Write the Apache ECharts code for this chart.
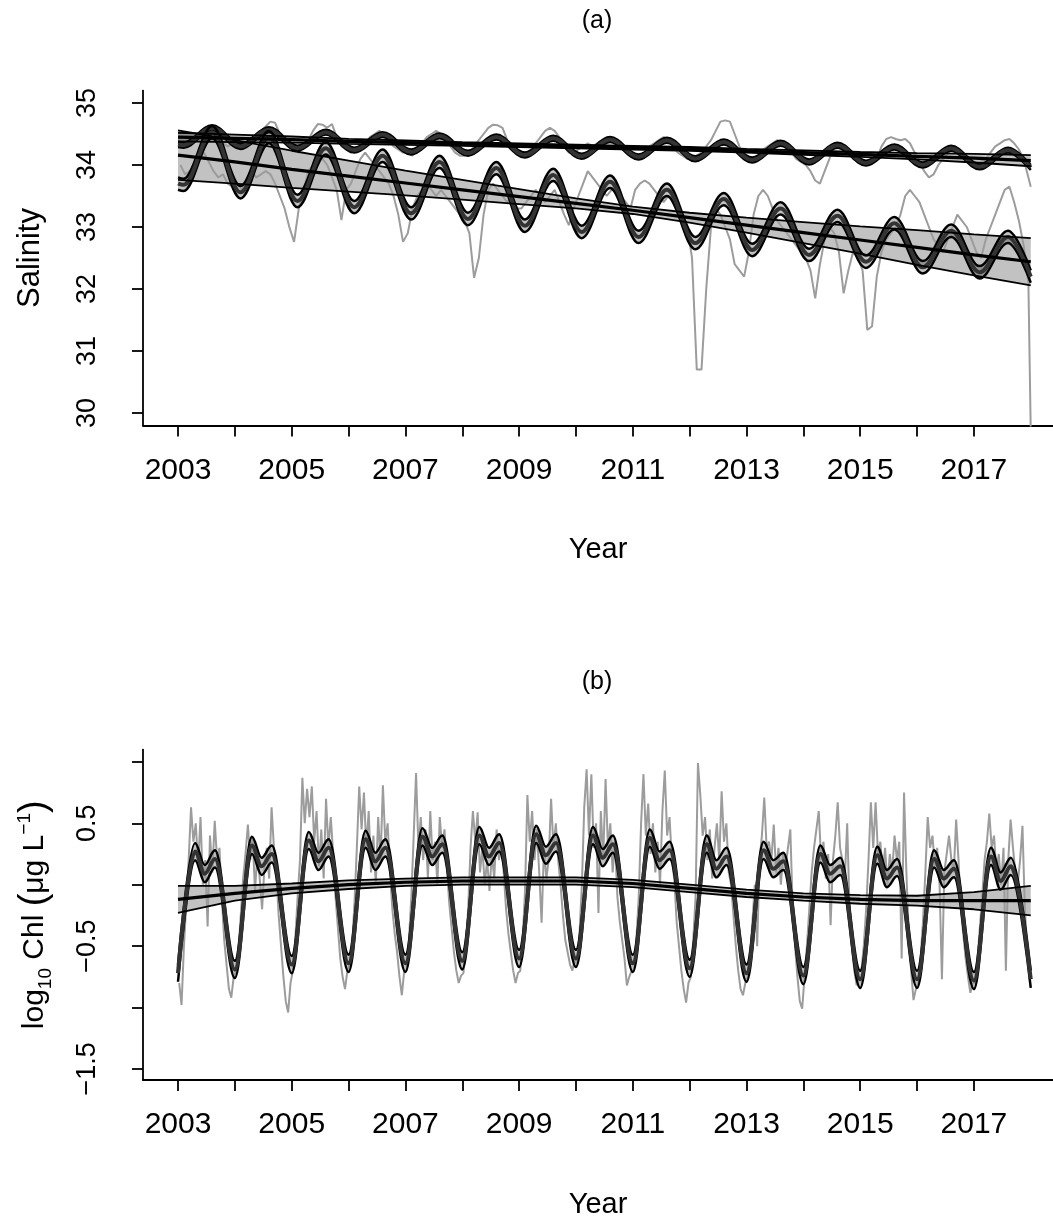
<!DOCTYPE html>
<html><head><meta charset="utf-8">
<script src="https://cdn.jsdelivr.net/npm/echarts@6/dist/echarts.min.js"></script>
<style>html,body{margin:0;padding:0;background:#fff}#c{width:1053px;height:1220px}</style>
</head><body><div id="c"></div>
<script>
// ---------------- DATA ----------------
const trendYears = [2003,2004,2005,2006,2007,2008,2009,2010,2011,2012,2013,2014,2015,2016,2017,2018];
const seasonYears = [2003,2004,2005,2006,2007,2008,2009,2010,2011,2012,2013,2014,2015,2016,2017];
const xTickYears = [2003,2004,2005,2006,2007,2008,2009,2010,2011,2012,2013,2014,2015,2016,2017];
const xLabelYears = [2003,2005,2007,2009,2011,2013,2015,2017];
const salTicks = [30,31,32,33,34,35];
const chlTicks = [-1.5,-1,-0.5,0,0.5,1];
const chlLabelTicks = [-1.5,-0.5,0.5];

// Salinity trends (station A: upper, station B: lower)
const salTrendA     = [34.45,34.43,34.41,34.38,34.36,34.34,34.32,34.30,34.28,34.26,34.23,34.20,34.17,34.14,34.11,34.07];
const salTrendAHalf = [0.07,0.06,0.05,0.04,0.035,0.03,0.03,0.03,0.03,0.03,0.03,0.035,0.04,0.05,0.07,0.09];
const salTrendB     = [34.16,34.05,33.93,33.82,33.71,33.60,33.49,33.38,33.27,33.15,33.03,32.91,32.79,32.67,32.55,32.44];
const salTrendBHalf = [0.40,0.35,0.30,0.25,0.20,0.16,0.12,0.08,0.06,0.08,0.12,0.17,0.22,0.28,0.33,0.38];

// Salinity seasonal fits: annual peaks and troughs, plus start/end values
const salSeasAPeak   = [34.60,34.57,34.53,34.49,34.47,34.45,34.43,34.41,34.40,34.37,34.35,34.32,34.29,34.27,34.24];
const salSeasATrough = [34.32,34.30,34.27,34.24,34.21,34.19,34.16,34.14,34.13,34.10,34.08,34.05,34.03,34.00,33.97];
const salSeasAEnds   = [34.33,33.96];
const salSeasAHalf   = 0.04;
const salSeasBPeak   = [34.53,34.45,34.27,34.15,34.05,33.95,33.84,33.73,33.60,33.45,33.30,33.18,33.06,32.94,32.84];
const salSeasBTrough = [33.68,33.56,33.42,33.32,33.22,33.13,33.02,32.92,32.84,32.74,32.63,32.55,32.44,32.35,32.27];
const salSeasBEnds   = [33.70,32.20];
const salSeasBHalf   = 0.10;
const salPhaseTrough = 0.1, salPhasePeak = 0.6;

// Salinity raw (monthly, per year)
const salRawA = [
 34.35,34.30,34.35,34.45,34.50,34.55,34.60,34.55,34.45,34.35,34.30,34.35,
 34.30,34.25,34.30,34.40,34.50,34.55,34.62,34.70,34.68,34.50,34.35,34.30,
 34.25,34.20,34.30,34.40,34.55,34.66,34.65,34.60,34.66,34.45,34.30,34.25,
 34.20,34.25,34.30,34.35,34.45,34.50,34.55,34.50,34.40,34.30,34.25,34.20,
 34.20,34.15,34.25,34.35,34.45,34.50,34.55,34.50,34.40,34.30,34.20,34.15,
 34.15,34.20,34.30,34.40,34.50,34.60,34.65,34.64,34.60,34.40,34.25,34.20,
 34.20,34.15,34.25,34.35,34.45,34.55,34.60,34.55,34.45,34.30,34.20,34.20,
 34.25,34.30,34.35,34.30,34.35,34.40,34.45,34.40,34.35,34.30,34.20,34.15,
 34.10,34.15,34.20,34.30,34.35,34.40,34.45,34.40,34.30,34.20,34.15,34.10,
 34.10,34.15,34.20,34.30,34.40,34.55,34.70,34.72,34.70,34.50,34.30,34.15,
 34.10,34.05,34.15,34.25,34.30,34.35,34.40,34.35,34.30,34.20,34.10,34.05,
 34.00,33.90,33.75,33.70,33.90,34.10,34.30,34.35,34.30,34.20,34.10,34.05,
 34.00,34.00,34.05,34.10,34.30,34.42,34.45,34.42,34.40,34.42,34.35,34.20,
 34.05,33.90,33.80,33.85,34.00,34.10,34.20,34.25,34.20,34.15,34.10,34.05,
 34.00,34.05,34.10,34.20,34.30,34.35,34.40,34.42,34.35,34.25,34.10,33.80];
const salRawAEnd = 33.65;
const salRawB = [
 34.00,33.85,33.90,34.00,34.10,34.20,34.05,33.90,33.80,33.85,33.70,33.65,
 33.70,33.60,33.75,33.90,33.80,33.85,33.90,33.85,33.70,33.50,33.30,33.00,
 32.76,33.30,33.60,33.90,34.00,34.20,34.10,34.00,33.80,33.60,33.11,33.60,
 33.70,33.90,34.10,34.20,34.10,34.00,33.90,33.80,33.70,33.50,33.20,32.76,
 32.90,33.30,33.50,33.60,33.70,33.60,33.50,33.60,33.50,33.40,33.30,33.20,
 33.10,32.90,32.18,32.50,33.20,33.60,33.70,33.60,33.50,33.40,33.50,33.30,
 33.30,33.40,33.50,33.60,33.50,33.40,33.50,33.60,33.40,33.20,33.03,33.30,
 33.50,33.70,33.90,33.80,33.70,33.60,33.50,33.60,33.70,33.50,33.40,33.30,
 33.60,33.70,33.75,33.70,33.60,33.50,33.40,33.50,33.45,33.30,33.20,33.00,
 32.50,30.70,30.70,32.00,33.00,33.30,33.20,33.00,32.80,32.40,32.30,32.20,
 32.60,33.20,33.50,33.60,33.50,33.30,33.10,33.00,32.90,32.80,32.70,32.60,
 32.50,32.30,31.85,32.40,32.80,33.00,32.90,32.60,31.93,32.30,32.60,32.50,
 32.30,31.34,31.40,32.20,32.60,32.80,32.90,33.00,33.20,33.50,33.60,33.50,
 33.40,33.20,33.00,32.80,32.70,32.60,32.80,33.00,33.20,33.10,33.00,32.80,
 32.60,32.50,32.80,33.00,33.20,33.40,33.60,33.65,33.40,33.10,32.70,32.10];
const salRawBEnd = 29.70;

// Chlorophyll trend
const chlTrend     = [-0.12,-0.07,-0.03,0.00,0.02,0.03,0.03,0.03,0.01,-0.03,-0.07,-0.10,-0.12,-0.13,-0.13,-0.13];
const chlTrendHalf = [0.11,0.06,0.04,0.035,0.03,0.03,0.03,0.03,0.03,0.03,0.03,0.03,0.035,0.04,0.07,0.12];

// Chlorophyll seasonal fit: winter trough, spring peak, summer dip, autumn peak
const chlSeasTrough = [-0.72,-0.69,-0.65,-0.64,-0.64,-0.62,-0.60,-0.60,-0.64,-0.68,-0.72,-0.74,-0.77,-0.77,-0.78,-0.77];
const chlSeasPeak1  = [0.27,0.32,0.36,0.37,0.39,0.40,0.41,0.40,0.38,0.33,0.28,0.25,0.24,0.21,0.23];
const chlSeasDip    = [0.09,0.15,0.19,0.19,0.23,0.23,0.24,0.22,0.20,0.13,0.13,0.09,0.05,0.05,0.03];
const chlSeasPeak2  = [0.21,0.25,0.30,0.30,0.33,0.34,0.34,0.33,0.28,0.23,0.19,0.15,0.14,0.13,0.15];
const chlSeasHalf   = 0.07;
const chlPhase = [0.0, 0.30, 0.47, 0.65];

// Chlorophyll raw (half-monthly, per year)
const chlRaw = [
 -0.80,-0.98,-0.50,-0.15,0.20,0.63,0.35,0.50,0.15,0.55,0.00,0.20,-0.34,0.40,0.10,0.52,0.20,0.30,-0.10,-0.45,-0.65,-0.85,-0.92,-0.75,
 -0.70,-0.55,-0.25,0.05,0.25,0.49,0.20,0.39,-0.05,0.25,0.05,-0.20,0.15,0.30,0.05,0.63,0.30,0.10,-0.25,-0.50,-0.75,-0.95,-1.04,-0.80,
 -0.70,-0.45,-0.10,0.20,0.87,0.50,0.78,0.55,0.80,0.35,0.60,0.15,0.45,0.05,0.70,0.30,0.55,0.25,-0.10,-0.35,-0.60,-0.75,-0.85,-0.70,
 -0.65,-0.50,-0.15,0.30,0.80,0.45,0.75,0.30,0.60,0.10,0.40,0.00,0.55,0.20,0.81,0.35,0.50,0.10,-0.20,-0.40,-0.55,-0.75,-0.90,-0.70,
 -0.70,-0.45,-0.10,0.40,0.91,0.30,0.55,0.20,0.45,0.05,0.60,0.20,0.35,0.00,0.55,0.30,0.45,0.15,-0.15,-0.35,-0.55,-0.70,-0.80,-0.74,
 -0.72,-0.50,-0.20,0.30,0.60,0.35,0.59,0.10,0.30,0.00,0.20,-0.05,0.25,0.05,0.45,0.20,0.35,0.10,-0.20,-0.40,-0.55,-0.70,-0.80,-0.72,
 -0.70,-0.45,-0.05,0.73,0.35,0.60,0.20,0.45,0.10,-0.31,0.30,0.05,0.20,0.70,0.30,0.50,0.20,0.00,-0.25,-0.45,-0.55,-0.65,-0.70,-0.60,
 -0.65,-0.40,0.00,0.63,0.94,0.40,0.90,0.30,0.50,-0.23,0.60,0.20,0.86,0.30,0.50,0.10,0.35,-0.10,-0.30,-0.45,-0.60,-0.82,-0.75,-0.70,
 -0.70,-0.45,-0.10,0.50,0.90,0.40,0.66,0.25,0.50,0.10,0.35,0.00,0.60,0.93,0.40,0.55,0.20,0.05,-0.30,-0.50,-0.70,-0.85,-0.96,-0.80,
 -0.75,-0.45,-0.10,0.99,0.73,0.40,0.55,0.20,0.45,0.05,0.30,0.50,0.20,0.76,0.35,0.50,0.10,0.00,-0.25,-0.50,-0.70,-0.85,-0.90,-0.80,
 -0.75,-0.60,-0.30,0.00,-0.50,0.20,0.40,0.71,0.30,0.35,0.20,0.49,0.10,0.30,0.00,0.25,0.15,0.30,0.45,-0.20,-0.50,-0.75,-0.95,-1.01,
 -0.75,-0.50,-0.20,0.10,0.30,0.45,0.60,0.20,0.35,0.05,0.25,-0.33,0.20,0.40,0.67,0.30,0.20,0.05,0.50,-0.20,-0.50,-0.70,-0.82,-0.70,
 -0.70,-0.50,-0.20,0.20,0.67,0.30,0.67,0.25,0.35,0.10,0.30,0.00,0.25,0.10,0.40,0.20,0.35,-0.60,0.75,0.10,-0.40,-0.70,-0.94,-0.85,
 -0.80,-0.60,-0.30,0.10,0.55,0.30,0.40,0.15,0.30,0.00,-0.77,0.10,0.25,0.40,0.20,0.10,0.53,0.20,-0.20,-0.40,-0.60,-0.75,-0.88,-0.80,
 -0.80,-0.60,-0.35,-0.10,0.20,0.35,0.58,0.30,0.40,0.10,0.25,0.00,0.30,-0.70,0.20,0.53,0.30,0.10,0.00,0.20,0.48,-0.20,-0.50,-0.70];
const chlRawEnd = -0.72;

// ---------------- BUILD ----------------
const FONT = '"Liberation Sans", Arial, Helvetica, sans-serif';
const X_MIN = 2002.3843, X_MAX = 2018.3912;
const SMOOTH = 0.36;
const FILL = 'rgba(0,0,0,0.24)';

function rawPts(vals, perYear, endVal) {
  const p = vals.map((v, i) => [2003 + (i + 0.5) / perYear, v]);
  p.push([2018, endVal]);
  return p;
}
function trendPts(vals) { return trendYears.map((y, i) => [y, vals[i]]); }
function trendBand(vals, half, sign) { return trendYears.map((y, i) => [y, vals[i] + sign * half[i]]); }
function salSeasPts(peaks, troughs, ends) {
  const p = [[2003, ends[0]]];
  seasonYears.forEach((y, i) => { p.push([y + salPhaseTrough, troughs[i]]); p.push([y + salPhasePeak, peaks[i]]); });
  p.push([2018, ends[1]]);
  return p;
}
function chlSeasPts() {
  const p = [];
  seasonYears.forEach((y, i) => {
    p.push([y + chlPhase[0], chlSeasTrough[i]]);
    p.push([y + chlPhase[1], chlSeasPeak1[i]]);
    p.push([y + chlPhase[2], chlSeasDip[i]]);
    p.push([y + chlPhase[3], chlSeasPeak2[i]]);
  });
  p.push([2018, chlSeasTrough[15]]);
  return p;
}
function shift(pts, d) { return pts.map(([t, v]) => [t, v + d]); }

function segPath(P, s) {
  let d = '';
  const n = P.length;
  for (let i = 1; i < n; i++) {
    if (!s) { d += 'L' + P[i][0] + ' ' + P[i][1]; continue; }
    const dx = P[i][0] - P[i - 1][0];
    const c0 = (i === 1) ? P[0] : [P[i - 1][0] + s * dx, P[i - 1][1]];
    const c1 = (i === n - 1) ? P[i] : [P[i][0] - s * dx, P[i][1]];
    d += 'C' + c0[0] + ' ' + c0[1] + ' ' + c1[0] + ' ' + c1[1] + ' ' + P[i][0] + ' ' + P[i][1];
  }
  return d;
}
function fillSeries(g, upper, lower, s) {
  return {
    type: 'custom', xAxisIndex: g, yAxisIndex: g, silent: true, data: [[2010, g === 0 ? 33 : 0]],
    renderItem: function (params, api) {
      const U = upper.map(p => api.coord(p));
      const L = lower.map(p => api.coord(p)).reverse();
      let d = 'M' + U[0][0] + ' ' + U[0][1] + segPath(U, s);
      d += 'L' + L[0][0] + ' ' + L[0][1] + segPath(L, s) + 'Z';
      return { type: 'path', shape: { pathData: d }, style: { fill: FILL, stroke: null } };
    }
  };
}
function lineSeries(g, data, color, width, smooth) {
  const o = { type: 'line', xAxisIndex: g, yAxisIndex: g, data: data, symbol: 'none', showSymbol: false,
    silent: true, clip: true, lineStyle: { color: color, width: width }, smooth: smooth || false };
  if (smooth) o.smoothMonotone = 'x';
  return o;
}
function bandSeries(g, center, half, s, cColor, cWidth, eWidth) {
  const up = shift(center, half), lo = shift(center, -half);
  return [fillSeries(g, up, lo, s), lineSeries(g, lo, '#000', eWidth, s), lineSeries(g, up, '#000', eWidth, s), lineSeries(g, center, cColor, cWidth, s)];
}
function trendSeries(g, vals, half) {
  const up = trendBand(vals, half, 1), lo = trendBand(vals, half, -1);
  return { fill: fillSeries(g, up, lo, 0),
    lines: [lineSeries(g, lo, '#000', 1.8), lineSeries(g, up, '#000', 1.8), lineSeries(g, trendPts(vals), '#000', 3.2)] };
}

const RAW = '#9c9c9c';
const tA = trendSeries(0, salTrendA, salTrendAHalf);
const tB = trendSeries(0, salTrendB, salTrendBHalf);
const tC = trendSeries(1, chlTrend, chlTrendHalf);
const sA = bandSeries(0, salSeasPts(salSeasAPeak, salSeasATrough, salSeasAEnds), salSeasAHalf, SMOOTH, '#333333', 4, 2.5);
const sB = bandSeries(0, salSeasPts(salSeasBPeak, salSeasBTrough, salSeasBEnds), salSeasBHalf, SMOOTH, '#333333', 4, 2.5);
const sC = bandSeries(1, chlSeasPts(), chlSeasHalf, SMOOTH, '#333333', 4, 2.5);

const series = [
  lineSeries(0, rawPts(salRawA, 12, salRawAEnd), RAW, 2),
  lineSeries(0, rawPts(salRawB, 12, salRawBEnd), RAW, 2),
  tA.fill, tB.fill,
  sA[0], sB[0],
  sA[1], sA[2], sA[3], sB[1], sB[2], sB[3],
  ...tA.lines, ...tB.lines,
  lineSeries(1, rawPts(chlRaw, 24, chlRawEnd), RAW, 2),
  tC.fill, sC[0], sC[1], sC[2], sC[3],
  ...tC.lines
];

function minus(v) { return v < 0 ? '\u2212' + Math.abs(v) : String(v); }
const axLine = { show: true, onZero: false, lineStyle: { color: '#000', width: 1.8 } };
function xAxis(g) {
  return { type: 'value', gridIndex: g, min: X_MIN, max: X_MAX, axisLine: axLine,
    axisTick: { show: true, length: 11, customValues: xTickYears, lineStyle: { color: '#000', width: 1.8 } },
    axisLabel: { customValues: xLabelYears, margin: 30, fontSize: 30, color: '#000', fontFamily: FONT, formatter: v => String(v) },
    splitLine: { show: false },
    name: 'Year', nameLocation: 'middle', nameGap: 110, nameTextStyle: { fontSize: 29, color: '#000', fontFamily: FONT } };
}
function yAxis(g, min, max, ticks, labels, name, nameGap, nameStyle) {
  return { type: 'value', gridIndex: g, min: min, max: max, axisLine: axLine,
    axisTick: { show: true, length: 11, customValues: ticks, lineStyle: { color: '#000', width: 1.8 } },
    axisLabel: { customValues: labels, rotate: 90, margin: 42, fontSize: 27, color: '#000', fontFamily: FONT, formatter: minus },
    splitLine: { show: false },
    name: name, nameLocation: 'middle', nameGap: nameGap, nameTextStyle: nameStyle };
}

const chart = echarts.init(document.getElementById('c'), null, { renderer: 'canvas' });
chart.setOption({
  animation: false,
  backgroundColor: '#fff',
  title: [
    { text: '(a)', left: 597, top: 9, textAlign: 'center', padding: 0, textStyle: { fontSize: 25, fontWeight: 'normal', color: '#000', fontFamily: FONT } },
    { text: '(b)', left: 597, top: 670, textAlign: 'center', padding: 0, textStyle: { fontSize: 25, fontWeight: 'normal', color: '#000', fontFamily: FONT } }
  ],
  grid: [
    { left: 143, top: 90.6, width: 910, height: 334.8 },
    { left: 143, top: 749.6, width: 910, height: 333.6 }
  ],
  xAxis: [xAxis(0), xAxis(1)],
  yAxis: [
    yAxis(0, 29.8, 35.2, salTicks, salTicks, 'Salinity', 97, { fontSize: 31, color: '#000', fontFamily: FONT }),
    yAxis(1, -1.59, 1.1, chlTicks, chlLabelTicks, '{t|log}{s|10}{t| Chl }{p|(}{t|\u03bcg L}{u|\u22121}{p|)}', 88, {
      color: '#000', fontFamily: FONT,
      rich: {
        t: { fontSize: 30, lineHeight: 40, color: '#000', fontFamily: FONT },
        s: { fontSize: 19, lineHeight: 40, verticalAlign: 'bottom', color: '#000', fontFamily: FONT },
        u: { fontSize: 19, lineHeight: 40, verticalAlign: 'top', color: '#000', fontFamily: FONT },
        p: { fontSize: 38, lineHeight: 40, color: '#000', fontFamily: FONT }
      }
    })
  ],
  series: series
});
</script></body></html>
